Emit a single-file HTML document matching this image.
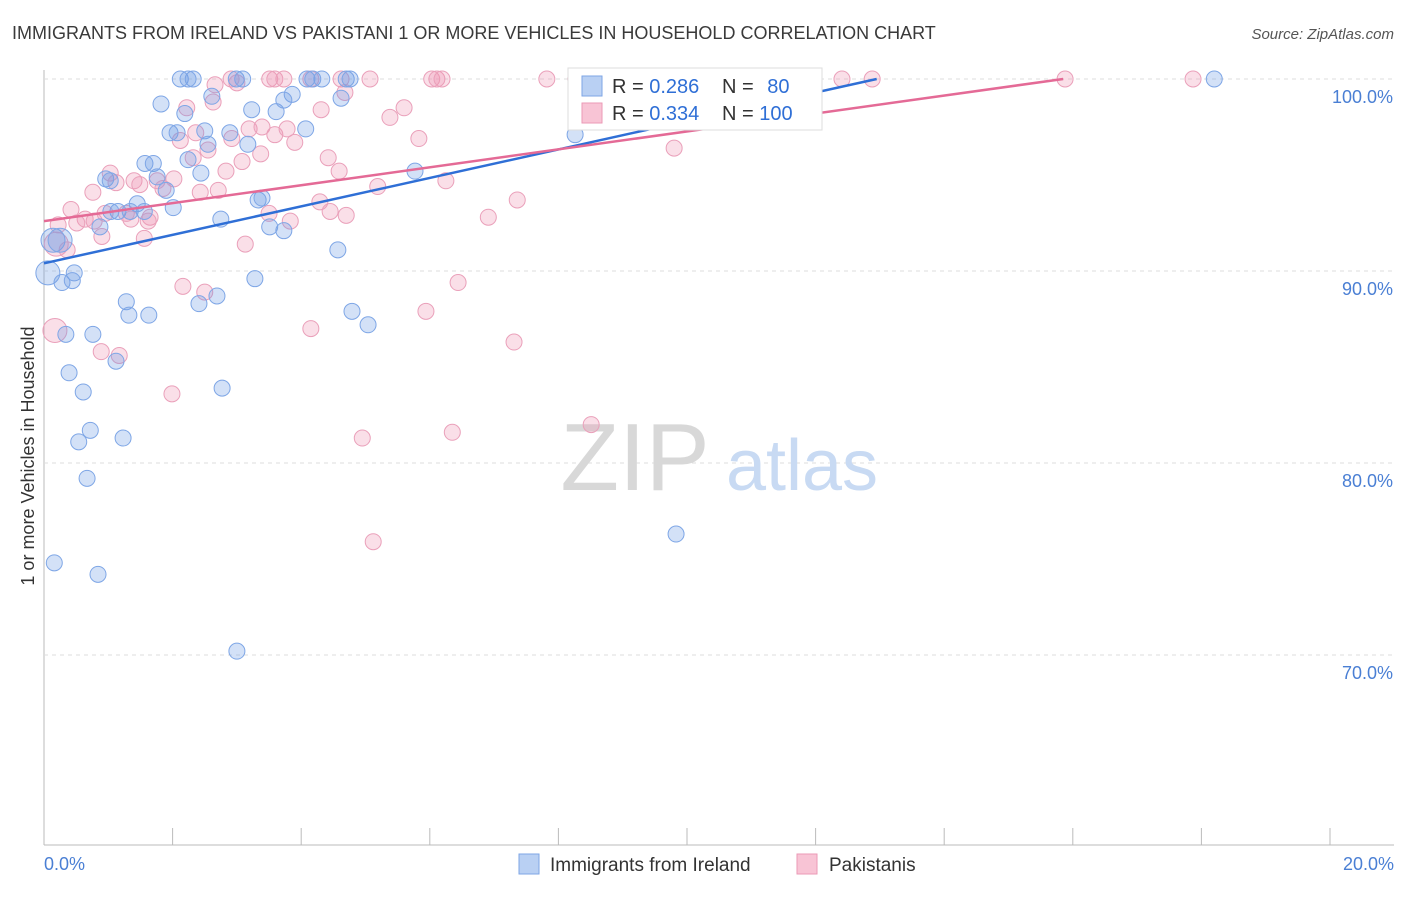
<!DOCTYPE html>
<html><head><meta charset="utf-8"><style>
body{margin:0;background:#fff;font-family:"Liberation Sans",sans-serif;}
svg text{font-family:"Liberation Sans",sans-serif;}
</style></head><body>
<svg id="chart" width="1406" height="892" viewBox="0 0 1406 892" xmlns="http://www.w3.org/2000/svg">
<text x="12" y="39" font-size="18" fill="#3a3a3a">IMMIGRANTS FROM IRELAND VS PAKISTANI 1 OR MORE VEHICLES IN HOUSEHOLD CORRELATION CHART</text>
<text x="1394" y="39" font-size="15" fill="#555" text-anchor="end" font-style="italic">Source: ZipAtlas.com</text>
<text transform="translate(34,456) rotate(-90)" font-size="18" fill="#333" text-anchor="middle">1 or more Vehicles in Household</text>
<g id="grid"></g>
<g>
<text x="635" y="490" font-size="96" fill="#d8d8d8" font-family="Liberation Serif,serif" text-anchor="middle">ZIP</text>
<text x="802" y="490" font-size="72" fill="#c8daf3" text-anchor="middle">atlas</text>
</g>
<g id="points"></g>
<g id="trends"></g>
<g>
<rect x="568" y="68" width="254" height="62" fill="#fff" stroke="#ddd"/>
<rect x="582" y="76" width="20" height="20" fill="#b9d0f3" stroke="#7ea6e6"/>
<rect x="582" y="103" width="20" height="20" fill="#f8c4d5" stroke="#eb9ab6"/>
<text x="612" y="93" font-size="20" fill="#333">R = <tspan fill="#2f6fd6">0.286</tspan></text>
<text x="722" y="93" font-size="20" fill="#333">N = <tspan fill="#2f6fd6" dx="8">80</tspan></text>
<text x="612" y="120" font-size="20" fill="#333">R = <tspan fill="#2f6fd6">0.334</tspan></text>
<text x="722" y="120" font-size="20" fill="#333">N = <tspan fill="#2f6fd6">100</tspan></text>
</g>
<g>
<rect x="519" y="854" width="20" height="20" fill="#b9d0f3" stroke="#7ea6e6"/>
<text x="550" y="871" font-size="19" fill="#333">Immigrants from Ireland</text>
<rect x="797" y="854" width="20" height="20" fill="#f8c4d5" stroke="#eb9ab6"/>
<text x="829" y="871" font-size="19" fill="#333">Pakistanis</text>
</g>
</svg>
<script>
const xTicks=[0,2,4,6,8,10,12,14,16,18,20];
const yTicks=[100,90,80,70];
const yTickLabels=["100.0%","90.0%","80.0%","70.0%"];
const blueX=[2.12,2.32,2.24,2.99,3.09,4.09,4.18,4.32,4.70,4.76,18.20,1.82,2.19,2.61,3.23,3.61,3.86,3.73,4.62,4.07,1.96,2.07,2.50,2.89,3.17,2.55,1.57,1.70,2.24,2.44,1.76,0.96,1.03,1.90,1.45,2.01,1.15,1.04,1.34,1.56,2.75,3.33,3.39,0.87,3.51,3.73,4.57,5.77,8.26,0.14,0.25,0.06,0.47,0.28,0.44,2.69,2.41,3.28,1.28,1.32,1.63,4.79,5.04,0.34,0.76,1.12,0.39,0.61,2.77,0.54,0.72,1.23,0.67,0.16,0.84,3.00,9.83];
const blueY=[100,100,100,100,100,100,100,100,100,100,100,98.7,98.2,99.1,98.4,98.3,99.2,98.9,99.0,97.4,97.2,97.2,97.3,97.2,96.6,96.6,95.6,95.6,95.8,95.1,94.9,94.8,94.7,94.2,93.5,93.3,93.1,93.1,93.1,93.1,92.7,93.7,93.8,92.3,92.3,92.1,91.1,95.2,97.1,91.6,91.6,89.9,89.9,89.4,89.5,88.7,88.3,89.6,88.4,87.7,87.7,87.9,87.2,86.7,86.7,85.3,84.7,83.7,83.9,81.1,81.7,81.3,79.2,74.8,74.2,70.2,76.3];
const pinkX=[0.17,0.19,0.22,0.36,0.42,0.64,0.78,0.51,0.90,0.95,0.76,1.03,1.12,1.40,1.49,1.76,1.85,2.02,1.65,1.56,1.35,1.28,1.62,2.16,0.89,1.17,1.99,2.50,2.32,2.43,2.71,2.83,3.08,3.13,2.12,2.22,2.36,2.55,2.63,2.66,3.00,2.91,3.51,3.59,3.73,4.15,4.62,5.07,6.03,6.11,6.19,7.82,8.27,9.35,12.41,12.88,15.88,17.87,11.32,3.19,3.39,3.59,3.78,3.90,3.37,3.50,3.83,2.92,4.31,4.68,4.42,4.59,4.29,4.45,4.70,5.19,5.38,5.60,5.83,6.25,6.44,6.91,7.36,4.15,5.94,7.31,4.95,5.12,6.35,8.51,9.80];
const pinkY=[86.9,91.4,92.4,91.1,93.2,92.7,92.6,92.5,91.8,93.0,94.1,95.1,94.6,94.7,94.5,94.7,94.3,94.8,92.8,91.7,92.7,93.0,92.6,89.2,85.8,85.6,83.6,88.9,95.9,94.1,94.2,95.2,95.7,91.4,96.8,98.5,97.2,96.3,98.8,99.7,99.8,100,100,100,100,100,100,100,100,100,100,100,100,100,100,100,100,100,100,97.4,97.5,97.1,97.4,96.7,96.1,93.0,92.6,96.9,98.4,99.3,95.9,95.2,93.6,93.1,92.9,94.4,98.0,98.5,96.9,94.7,89.4,92.8,93.7,87.0,87.9,86.3,81.3,75.9,81.6,82.0,96.4];
const blueTrend=[[0,90.4],[12.95,100]];
const pinkTrend=[[0,92.6],[15.85,100]];
const NS="http://www.w3.org/2000/svg";
const X0=44,X1=1330,Y100=79,PX1=19.2;
function sx(v){return X0+(v/20)*(X1-X0);}
function sy(v){return Y100+(100-v)*PX1;}
function mk(t,a,p){const e=document.createElementNS(NS,t);for(const k in a)e.setAttribute(k,a[k]);p.appendChild(e);return e;}
const grid=document.getElementById('grid');
const ax=mk('line',{x1:X0,y1:70,x2:X0,y2:845,stroke:'#bbb'},grid);


const bx=mk('line',{x1:X0,y1:845,x2:1394,y2:845,stroke:'#bbb'},grid);


yTicks.forEach((t,i)=>{
 const g=mk('line',{x1:X0,y1:sy(t),x2:1394,y2:sy(t),stroke:'#ddd','stroke-dasharray':'4,4'},grid);
 
 
 const l=mk('text',{x:1393,y:sy(t)+24,'font-size':18,fill:'#4a7fd4','text-anchor':'end'},grid);
 l.textContent=yTickLabels[i];
 
 
});
xTicks.forEach(t=>{
 const k=mk('line',{x1:sx(t),y1:828,x2:sx(t),y2:845,stroke:'#bbb'},grid);
 
 
});
const xl0=mk('text',{x:44,y:870,'font-size':18,fill:'#4a7fd4'},grid);xl0.textContent=xTicks[0].toFixed(1)+'%';


const xl1=mk('text',{x:1394,y:870,'font-size':18,fill:'#4a7fd4','text-anchor':'end'},grid);xl1.textContent=xTicks[xTicks.length-1].toFixed(1)+'%';


const pts=document.getElementById('points');
function dots(xs,ys,fill,stroke,name){xs.forEach((x,i)=>{
 const big=(x<0.3&&i<2&&name==='pink-point')||(x<0.3&&name==='blue-point'&&ys[i]>=89.9&&ys[i]<=91.6);
 const c=mk('circle',{cx:sx(x),cy:sy(ys[i]),r:big?12:8,fill:fill,stroke:stroke,'stroke-width':1},pts);
 
 
});}
dots(pinkX,pinkY,'rgba(240,150,180,0.3)','#eaa0ba','pink-point');
dots(blueX,blueY,'rgba(110,155,230,0.3)','#7ea6e6','blue-point');
const tr=document.getElementById('trends');
const b=mk('line',{x1:sx(blueTrend[0][0]),y1:sy(blueTrend[0][1]),x2:sx(blueTrend[1][0]),y2:sy(blueTrend[1][1]),stroke:'#2f6fd6','stroke-width':2.5},tr);


const p=mk('line',{x1:sx(pinkTrend[0][0]),y1:sy(pinkTrend[0][1]),x2:sx(pinkTrend[1][0]),y2:sy(pinkTrend[1][1]),stroke:'#e46a96','stroke-width':2.5},tr);


</script>
</body></html>
